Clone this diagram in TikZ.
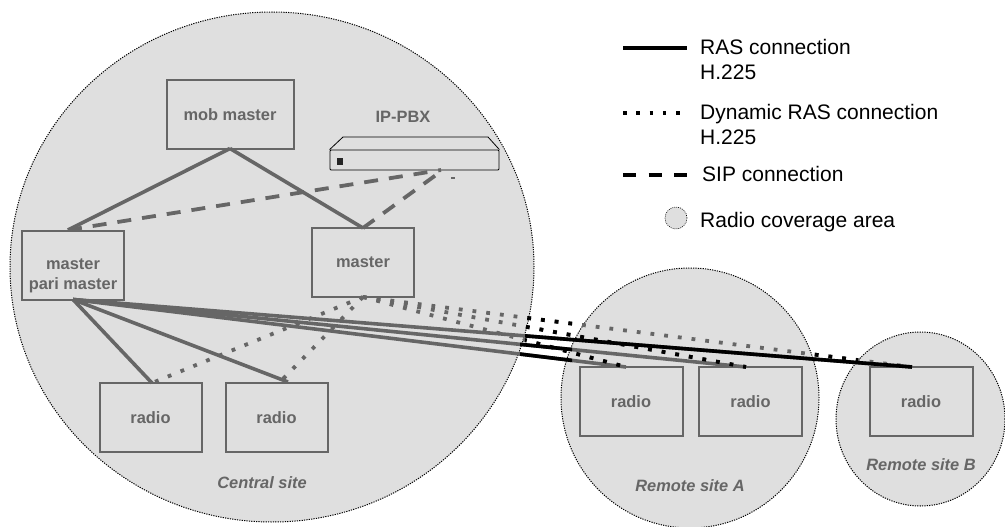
\documentclass[tikz,border=0pt]{standalone}
\usepackage{fontspec}
\setmainfont{Liberation Sans}
\definecolor{sitefill}{HTML}{DFDFDF}
\definecolor{linegray}{HTML}{666666}
\tikzset{
  sitearea/.style={fill=sitefill,draw=black,line width=1pt,dash pattern=on 1.2pt off 1.2pt},
  boxnode/.style={draw=linegray,line width=2pt,inner sep=0pt,outer sep=0pt,text=linegray,font=\fontsize{16.4}{20}\selectfont\bfseries,align=center},
  boxlabel/.style={text=linegray,inner sep=0pt,font=\fontsize{16.4}{20}\selectfont\bfseries,align=center},
  sitelabel/.style={text=linegray,inner sep=0pt,font=\fontsize{16.4}{20}\selectfont\bfseries\itshape},
  legendtext/.style={anchor=west,inner sep=0pt,align=left,font=\fontsize{21}{25}\selectfont},
  rasline/.style={line width=3.6pt,draw=#1},
  dynline/.style={line width=3.8pt,draw=#1,dash pattern=on 3.8pt off 10pt},
  sipline/.style={line width=3.8pt,draw=#1,dash pattern=on 14pt off 11pt}
}
\begin{document}
\begin{tikzpicture}[x=1pt,y=-1pt]
\useasboundingbox (0,0) rectangle (1005,527);
\draw[sitearea] (272,267) ellipse (262pt and 255pt);
\draw[sitearea] (690,398) ellipse (129pt and 130pt);
\draw[sitearea] (920.5,419) ellipse (84.5pt and 87pt);
\node[sitelabel] (central) at (262,483){Central site};
\node[sitelabel] (sitea) at (690,486){Remote site A};
\node[sitelabel] (siteb) at (921,465){Remote site B};
% boxes
\node[boxnode,minimum width=127pt,minimum height=68pt] (mob) at (230,114.5){mob master};
\node[boxnode,minimum width=102pt,minimum height=69pt] (pari) at (73,265){};
\node[boxlabel] (paritext) at (73,276){master\\pari master};
\node[boxnode,minimum width=102pt,minimum height=69pt] (mst) at (363,262.5){master};
\node[boxnode,minimum width=102pt,minimum height=69pt] (radioa) at (150.5,417.5){radio};
\node[boxnode,minimum width=102pt,minimum height=69pt] (radiob) at (276.5,417.5){radio};
\node[boxnode,minimum width=103pt,minimum height=69pt] (radioc) at (631,401.5){radio};
\node[boxnode,minimum width=103pt,minimum height=69pt] (radiod) at (750.5,401.5){radio};
\node[boxnode,minimum width=103pt,minimum height=69pt] (radioe) at (921,401.5){radio};
% IP-PBX
\node[boxlabel] (pbxtext) at (403,117){IP-PBX};
\node[draw=black,line width=0.8pt,rounded corners=1pt,minimum width=169pt,minimum height=20pt,inner sep=0pt] (pbx) at (414.5,160){};
\draw[black,line width=0.8pt] (pbx.north west)--(343,137)--(488,137)--(pbx.north east);
\node[fill=black!85,minimum width=6pt,minimum height=7pt,inner sep=0pt] (pbxled) at (340,161){};
% ends of the connectors
\coordinate (topa) at (152,383);
\coordinate (topb) at (288,382);
\coordinate (dota) at (152,383);
\coordinate (dotb) at (280,382);
\coordinate (topc) at (626,367);
\coordinate (topd) at (746,367);
\coordinate (tope) at (912,367);
\coordinate (parisip) at (68,230);
\coordinate (pbxa) at (441,170);
\coordinate (pbxb) at (436,175);
\coordinate (specka) at (451,178);
\coordinate (speckb) at (455,178);
% connectors
\draw[rasline=linegray] (mob.south)--(parisip);
\draw[rasline=linegray] (mob.south)--(mst.north);
\draw[sipline=linegray] (parisip)--(pbxa);
\draw[sipline=linegray] (mst.north)--(pbxb);
\draw[linegray,line width=1.5pt] (specka)--(speckb);
\foreach \radiotop in {topa,topb,topc,topd,tope}{
  \draw[rasline=linegray] (pari.south)--(\radiotop);
}
\foreach \radiotop in {dota,dotb,topc,topd,tope}{
  \draw[dynline=linegray] (mst.south)--(\radiotop);
}
% black where the lines leave the sites
\begin{scope}
\clip (520,300) rectangle (572,380);
\draw[rasline=black] (pari.south)--(topc);
\draw[rasline=black] (pari.south)--(topd);
\draw[dynline=black] (mst.south)--(tope);
\end{scope}
\begin{scope}
\clip (525,300) rectangle (1005,380);
\draw[rasline=black] (pari.south)--(tope);
\draw[dynline=black] (mst.south)--(topc);
\draw[dynline=black] (mst.south)--(topd);
\end{scope}
\begin{scope}
\clip (808,300) rectangle (858,380);
\draw[dynline=black] (mst.south)--(tope);
\end{scope}
% legend
\coordinate (rasa) at (623,48);
\coordinate (rasb) at (687,48);
\coordinate (dyna) at (623,113);
\coordinate (dynb) at (687,113);
\coordinate (sipa) at (623,175);
\coordinate (sipb) at (687,175);
\draw[rasline=black] (rasa)--(rasb);
\draw[dynline=black,dash pattern=on 3.5pt off 9.8pt] (dyna)--(dynb);
\draw[sipline=black,dash pattern=on 13pt off 12.5pt] (sipa)--(sipb);
\node[legendtext] (raslabel) at (700,59){RAS connection\\H.225};
\node[legendtext] (dynlabel) at (700,124){Dynamic RAS connection\\H.225};
\node[legendtext] (siplabel) at (702,174){SIP connection};
\draw[sitearea,line width=0.6pt,dash pattern=on 0.9pt off 1.1pt] (676,218) circle (11pt);
\node[legendtext] (arealabel) at (700,222.5){Radio coverage area};
\end{tikzpicture}
\end{document}
